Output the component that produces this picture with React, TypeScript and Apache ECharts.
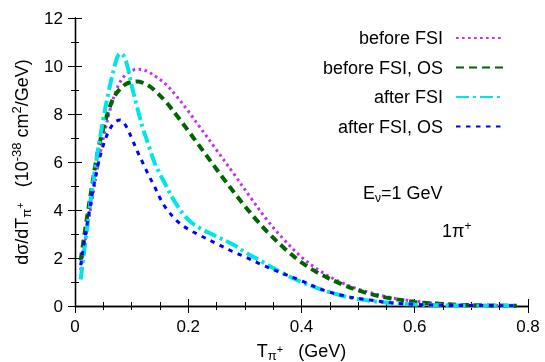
import React, { useEffect, useRef } from "react";
import * as echarts from "echarts";

const FONT = "'Liberation Sans', Arial, Helvetica, sans-serif";

const seriesNames = ["before FSI", "before FSI, OS", "after FSI", "after FSI, OS"];

const tBefore = [0.01, 0.02, 0.03, 0.04, 0.05, 0.06, 0.07, 0.08, 0.09, 0.10, 0.11, 0.12, 0.13, 0.14, 0.16, 0.18, 0.20, 0.22, 0.25, 0.28, 0.31, 0.34, 0.37, 0.40, 0.43, 0.47, 0.51, 0.56, 0.60, 0.65, 0.70, 0.78];
const vBefore = [1.5, 3.0, 4.4, 5.8, 7.0, 8.0, 8.8, 9.35, 9.65, 9.8, 9.86, 9.84, 9.75, 9.6, 9.25, 8.72, 8.12, 7.47, 6.5, 5.52, 4.52, 3.56, 2.74, 2.04, 1.5, 0.98, 0.63, 0.34, 0.2, 0.09, 0.04, 0.01];

const tBeforeOS = [0.01, 0.02, 0.03, 0.04, 0.05, 0.06, 0.07, 0.08, 0.09, 0.10, 0.11, 0.12, 0.13, 0.14, 0.16, 0.18, 0.20, 0.22, 0.24, 0.26, 0.28, 0.30, 0.32, 0.34, 0.37, 0.40, 0.43, 0.47, 0.51, 0.55, 0.60, 0.65, 0.70, 0.78];
const vBeforeOS = [1.9, 3.5, 5.0, 6.4, 7.4, 8.2, 8.75, 9.05, 9.25, 9.33, 9.35, 9.3, 9.18, 9.0, 8.52, 7.93, 7.3, 6.66, 6.02, 5.38, 4.76, 4.16, 3.6, 3.08, 2.4, 1.82, 1.37, 0.92, 0.58, 0.35, 0.17, 0.08, 0.035, 0.01];

const tAfter = [0.01, 0.02, 0.03, 0.04, 0.05, 0.06, 0.07, 0.075, 0.08, 0.085, 0.09, 0.095, 0.10, 0.11, 0.12, 0.13, 0.14, 0.15, 0.16, 0.18, 0.20, 0.22, 0.25, 0.28, 0.30, 0.33, 0.36, 0.40, 0.44, 0.48, 0.52, 0.56, 0.60, 0.65, 0.70, 0.78];
const vAfter = [1.1, 3.0, 4.8, 6.4, 7.8, 9.0, 10.0, 10.38, 10.52, 10.45, 10.2, 9.75, 9.2, 8.25, 7.4, 6.7, 6.0, 5.5, 5.05, 4.2, 3.6, 3.25, 2.9, 2.55, 2.25, 1.85, 1.45, 1.0, 0.65, 0.38, 0.22, 0.12, 0.06, 0.03, 0.015, 0.005];

const tAfterOS = [0.01, 0.02, 0.03, 0.04, 0.05, 0.06, 0.07, 0.08, 0.09, 0.10, 0.11, 0.12, 0.13, 0.14, 0.15, 0.16, 0.18, 0.20, 0.22, 0.25, 0.28, 0.30, 0.33, 0.36, 0.40, 0.44, 0.48, 0.52, 0.56, 0.60, 0.65, 0.70, 0.78];
const vAfterOS = [1.7, 3.2, 4.6, 5.8, 6.7, 7.3, 7.65, 7.75, 7.5, 7.0, 6.45, 5.95, 5.45, 5.0, 4.5, 4.1, 3.55, 3.2, 2.95, 2.6, 2.25, 2.05, 1.72, 1.42, 1.05, 0.65, 0.4, 0.25, 0.13, 0.07, 0.03, 0.02, 0.01];

const xTicks = { min: 0, max: 0.8, interval: 0.2 };
const yTicks = { min: 0, max: 12, interval: 2 };

const pair = (t: number[], v: number[]) => t.map((x, i) => [x, v[i]]);

export default function App() {
  const ref = useRef<HTMLDivElement>(null);
  useEffect(() => {
    const chart = echarts.init(ref.current!, null, { renderer: "svg" });
    const axisLine = { show: true, lineStyle: { color: "#000", width: 1.3 } };
    const tick = { show: true, inside: true, length: 7, lineStyle: { color: "#000", width: 1 } };
    const baseX = {
      type: "value" as const,
      ...xTicks,
      axisLine,
      axisTick: tick,
      splitLine: { show: false },
    };
    const baseY = {
      type: "value" as const,
      ...yTicks,
      axisLine,
      axisTick: tick,
      splitLine: { show: false },
    };
    const mk = (name: string, t: number[], v: number[], color: string, width: number, dash: number[]) => ({
      name,
      type: "line",
      data: pair(t, v),
      symbol: "none",
      smooth: 0.35,
      lineStyle: { color, width, type: dash, cap: "butt" },
      itemStyle: { color },
      z: 3,
    });
    const richName = {
      n: { fontSize: 18, color: "#000", fontFamily: FONT },
      sub: { fontSize: 13, color: "#000", fontFamily: FONT, padding: [10, 0, 0, 0] },
      sup: { fontSize: 11, color: "#000", fontFamily: FONT, padding: [0, 0, 3, 0] },
      sup2: { fontSize: 13, color: "#000", fontFamily: FONT, padding: [0, 0, 11, 0] },
    };
    chart.setOption({
      animation: false,
      textStyle: { fontFamily: FONT },
      grid: { left: 75, right: 17, top: 18, bottom: 56, containLabel: false, outerBoundsMode: "none" },
      legend: {
        orient: "vertical",
        right: 40,
        top: 28,
        padding: 0,
        align: "right",
        itemWidth: 48,
        itemHeight: 14,
        itemGap: 9.5,
        data: seriesNames,
        itemStyle: { opacity: 0 },
        textStyle: { fontSize: 18, color: "#000", fontFamily: FONT, lineHeight: 20, padding: [0, 8, 0, 0] },
      },
      xAxis: [
        {
          ...baseX,
          position: "bottom",
          minorTick: { show: true, splitNumber: 4, length: 4, lineStyle: { color: "#000" } },
          axisLabel: { fontSize: 17, color: "#000", fontFamily: FONT, margin: 12 },
          name: "{n|T}{sub|π}{sup|+}{n|   (GeV)}",
          nameLocation: "middle",
          nameGap: 33,
          nameTextStyle: { fontSize: 18, color: "#000", fontFamily: FONT, rich: richName },
        },
        {
          ...baseX,
          position: "top",
          minorTick: { show: true, splitNumber: 4, length: 4, lineStyle: { color: "#000" } },
          axisLabel: { show: false },
        },
      ],
      yAxis: [
        {
          ...baseY,
          position: "left",
          minorTick: { show: true, splitNumber: 2, length: 4, lineStyle: { color: "#000" } },
          axisLabel: { fontSize: 17, color: "#000", fontFamily: FONT, margin: 12 },
          name: "{n|dσ/dT}{sub|π}{sup|+}{n|   (10}{sup2|-38}{n| cm}{sup2|2}{n|/GeV)}",
          nameLocation: "middle",
          nameGap: 30,
          nameRotate: 90,
          nameTextStyle: { fontSize: 18, color: "#000", fontFamily: FONT, rich: richName },
        },
        {
          ...baseY,
          position: "right",
          minorTick: { show: true, splitNumber: 2, length: 4, lineStyle: { color: "#000" } },
          axisLabel: { show: false },
        },
      ],
      graphic: [
        {
          type: "text",
          x: 363,
          y: 192.5,
          style: {
            text: "{n|E}{sub|ν}{n|=1 GeV}",
            verticalAlign: "middle",
            align: "left",
            rich: {
              n: { fontSize: 18, fill: "#000", fontFamily: FONT },
              sub: { fontSize: 12, fill: "#000", fontFamily: FONT, padding: [10, 0, 0, 0] },
            },
          },
        },
        {
          type: "text",
          x: 442,
          y: 231,
          style: {
            text: "{n|1π}{sup|+}",
            verticalAlign: "middle",
            align: "left",
            rich: {
              n: { fontSize: 18, fill: "#000", fontFamily: FONT },
              sup: { fontSize: 12, fill: "#000", fontFamily: FONT, padding: [0, 0, 11, 0] },
            },
          },
        },
      ],
      series: [
        mk(seriesNames[0], tBefore, vBefore, "#c030f0", 3, [2.6, 3.4]),
        mk(seriesNames[1], tBeforeOS, vBeforeOS, "#006400", 4, [8, 5]),
        mk(seriesNames[2], tAfter, vAfter, "#00e5e5", 4, [13, 4, 3, 4]),
        mk(seriesNames[3], tAfterOS, vAfterOS, "#0000ff", 3, [4.5, 5.5]),
      ],
    });
    return () => chart.dispose();
  }, []);
  return <div ref={ref} style={{ position: "fixed", left: 0, top: 0, width: 545, height: 362 }} />;
}
